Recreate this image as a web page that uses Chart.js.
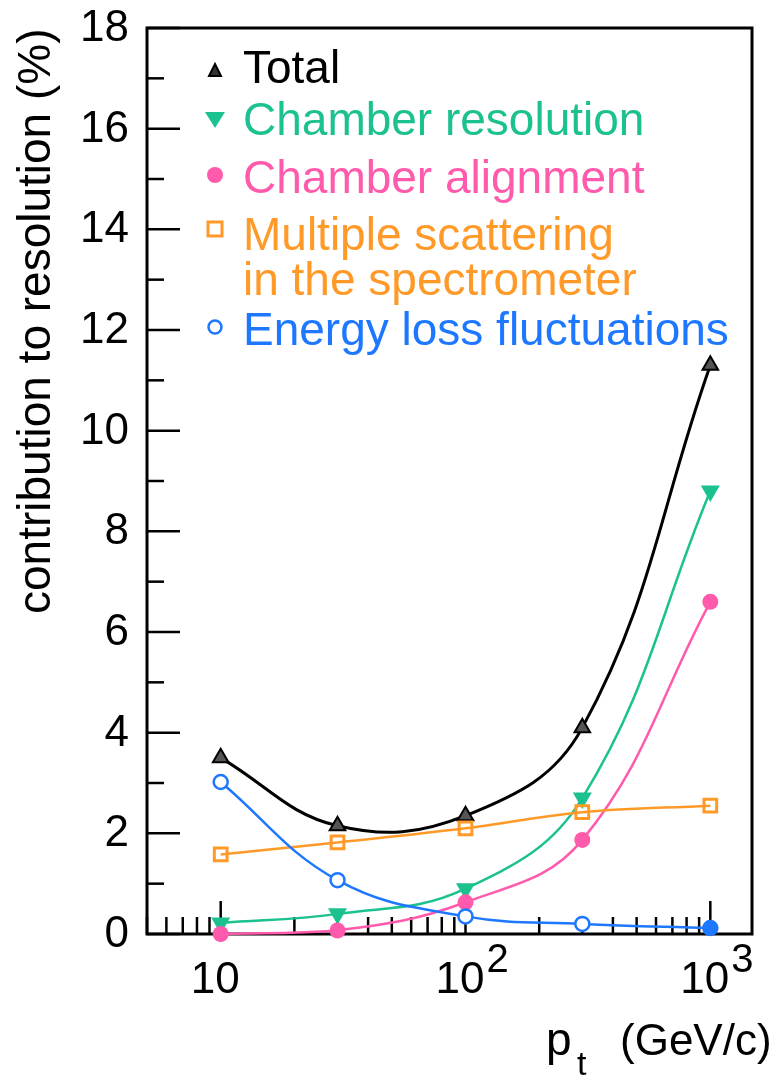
<!DOCTYPE html>
<html>
<head>
<meta charset="utf-8">
<script src="https://cdn.jsdelivr.net/npm/chart.js@4/dist/chart.umd.min.js"></script>
<style>
  body { margin: 0; background: #fff; }
  canvas { display: block; }
</style>
</head>
<body>
<canvas id="resChart" width="780" height="1078"></canvas>
<script>
// pt values (GeV/c) and contributions (%)
const ptValues = [10, 30, 100, 300, 1000];
const totalValues = [3.5, 2.15, 2.35, 4.1, 11.3];
const chamberResValues = [0.22, 0.4, 0.9, 2.7, 8.8];
const chamberAlignValues = [0.0, 0.07, 0.63, 1.87, 6.6];
const multScatValues = [1.58, 1.82, 2.1, 2.42, 2.55];
const energyLossValues = [3.02, 1.07, 0.35, 0.2, 0.12];

const seriesNames = ["Total", "Chamber resolution", "Chamber alignment",
    ["Multiple scattering", "in the spectrometer"], "Energy loss fluctuations"];
const yTickValues = [0, 2, 4, 6, 8, 10, 12, 14, 16, 18];
const xTickExponents = [1, 2, 3];

const BLACK = "#000";
const GREEN = "#1cc190";
const PINK = "#ff5aab";
const ORANGE = "#ff9a28";
const BLUE = "#1e78ff";
const FONT = "'Liberation Sans', Arial, sans-serif";

const pts = vals => ptValues.map((x, i) => ({ x: x, y: vals[i] }));

const axesPlugin = {
    id: "axes",
    beforeDatasetsDraw(chart) {
        const { ctx, chartArea: a, scales: { x, y } } = chart;
        ctx.save();
        ctx.strokeStyle = BLACK;
        ctx.lineWidth = 3;
        ctx.strokeRect(a.left, a.top, a.right - a.left, a.bottom - a.top);

        // y ticks, inward
        ctx.lineWidth = 2.5;
        for (let v = 0; v <= 18; v++) {
            const py = y.getPixelForValue(v);
            const len = v % 2 === 0 ? 33 : 17;
            ctx.beginPath();
            ctx.moveTo(a.left, py);
            ctx.lineTo(a.left + len, py);
            ctx.stroke();
        }
        // x ticks, inward
        for (let dec = 1; dec <= 1000; dec *= 10) {
            for (let m = 1; m <= 9; m++) {
                const v = dec * m;
                if (v < x.min || v > x.max) continue;
                const px = x.getPixelForValue(v);
                const len = m === 1 ? 33 : 17;
                ctx.beginPath();
                ctx.moveTo(px, a.bottom);
                ctx.lineTo(px, a.bottom - len);
                ctx.stroke();
            }
        }

        // y tick labels
        ctx.fillStyle = BLACK;
        ctx.font = "44px " + FONT;
        ctx.textAlign = "right";
        ctx.textBaseline = "middle";
        yTickValues.forEach(v => {
            ctx.fillText(String(v), 129, y.getPixelForValue(v) + 1);
        });

        // x tick labels
        ctx.textBaseline = "alphabetic";
        xTickExponents.forEach(e => {
            const px = x.getPixelForValue(Math.pow(10, e));
            ctx.font = "44px " + FONT;
            ctx.textAlign = "left";
            const w = ctx.measureText("10").width;
            const left = px - 30;
            ctx.fillText("10", left, 993);
            if (e > 1) {
                ctx.font = "40px " + FONT;
                ctx.fillText(String(e), left + w + 2, 972);
            }
        });

        // axis titles
        ctx.font = "46px " + FONT;
        ctx.textAlign = "left";
        ctx.fillText("p", 546, 1055);
        ctx.font = "34px " + FONT;
        ctx.fillText("t", 577, 1075);
        ctx.font = "44px " + FONT;
        ctx.fillText("(GeV/c)", 620, 1055);

        ctx.save();
        ctx.translate(50, 614);
        ctx.rotate(-Math.PI / 2);
        ctx.font = "46px " + FONT;
        ctx.textAlign = "left";
        ctx.fillText("contribution to resolution (%)", 0, 0);
        ctx.restore();
        ctx.restore();
    },
    afterDraw(chart) {
        const ctx = chart.ctx;
        ctx.save();
        const mx = 215, tx = 243;
        // Total
        ctx.fillStyle = "#333";
        ctx.strokeStyle = BLACK;
        ctx.lineWidth = 2;
        ctx.beginPath();
        ctx.moveTo(mx, 64); ctx.lineTo(mx + 6, 76); ctx.lineTo(mx - 6, 76); ctx.closePath();
        ctx.fill(); ctx.stroke();
        // Chamber resolution
        ctx.fillStyle = GREEN;
        ctx.beginPath();
        ctx.moveTo(mx - 10, 112); ctx.lineTo(mx + 10, 112); ctx.lineTo(mx, 128); ctx.closePath();
        ctx.fill();
        // Chamber alignment
        ctx.fillStyle = PINK;
        ctx.beginPath();
        ctx.arc(mx, 175, 8, 0, Math.PI * 2);
        ctx.fill();
        // Multiple scattering
        ctx.strokeStyle = ORANGE;
        ctx.lineWidth = 3;
        ctx.strokeRect(mx - 7, 222, 14, 14);
        // Energy loss
        ctx.strokeStyle = BLUE;
        ctx.lineWidth = 2.5;
        ctx.beginPath();
        ctx.arc(mx, 327, 6.5, 0, Math.PI * 2);
        ctx.stroke();

        ctx.font = "46px " + FONT;
        ctx.textAlign = "left";
        ctx.textBaseline = "alphabetic";
        ctx.fillStyle = BLACK; ctx.fillText(seriesNames[0], tx, 83);
        ctx.fillStyle = GREEN; ctx.fillText(seriesNames[1], tx, 135);
        ctx.fillStyle = PINK; ctx.fillText(seriesNames[2], tx, 193);
        ctx.fillStyle = ORANGE;
        ctx.fillText(seriesNames[3][0], tx, 250);
        ctx.fillText(seriesNames[3][1], tx, 295);
        ctx.fillStyle = BLUE; ctx.fillText(seriesNames[4], tx, 345);
        ctx.restore();
    }
};

new Chart(document.getElementById("resChart"), {
    type: "line",
    data: {
        datasets: [
            {
                label: "Energy loss fluctuations",
                data: pts(energyLossValues),
                borderColor: BLUE,
                borderWidth: 2.5,
                pointStyle: "circle",
                pointRadius: 7,
                pointBorderWidth: 2.5,
                pointBorderColor: BLUE,
                pointBackgroundColor: ["#fff", "#fff", "#fff", "#fff", BLUE],
                tension: 0.4,
            },
            {
                label: "Multiple scattering in the spectrometer",
                data: pts(multScatValues),
                borderColor: ORANGE,
                borderWidth: 2.5,
                pointStyle: "rect",
                pointRadius: 9,
                pointBorderWidth: 3,
                pointBorderColor: ORANGE,
                pointBackgroundColor: "rgba(255,255,255,0)",
                tension: 0.4,
            },
            {
                label: "Chamber alignment",
                data: pts(chamberAlignValues),
                borderColor: PINK,
                borderWidth: 2.5,
                pointStyle: "circle",
                pointRadius: 8,
                pointBorderWidth: 0,
                pointBackgroundColor: PINK,
                tension: 0.4,
            },
            {
                label: "Chamber resolution",
                data: pts(chamberResValues),
                borderColor: GREEN,
                borderWidth: 2.5,
                pointStyle: "triangle",
                rotation: 180,
                pointRadius: 11,
                pointBorderWidth: 0,
                pointBackgroundColor: GREEN,
                tension: 0.4,
            },
            {
                label: "Total",
                data: pts(totalValues),
                borderColor: BLACK,
                borderWidth: 3,
                pointStyle: "triangle",
                pointRadius: 9,
                pointBorderWidth: 2,
                pointBorderColor: BLACK,
                pointBackgroundColor: "#555",
                tension: 0.4,
            },
        ]
    },
    options: {
        responsive: false,
        animation: false,
        clip: false,
        layout: { padding: { left: 147, top: 28, right: 28, bottom: 144 } },
        plugins: { legend: { display: false }, tooltip: { enabled: false } },
        scales: {
            x: { type: "logarithmic", min: 5, max: 1480, display: false },
            y: { type: "linear", min: 0, max: 18, display: false }
        }
    },
    plugins: [axesPlugin]
});
</script>
</body>
</html>
